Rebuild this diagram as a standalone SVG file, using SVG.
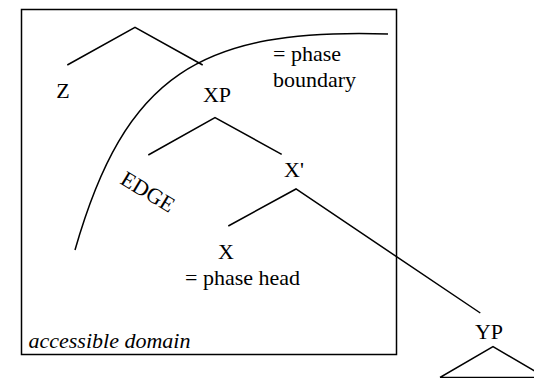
<svg xmlns="http://www.w3.org/2000/svg" width="534" height="378" viewBox="0 0 534 378">
<style>
.ln{stroke:#000;stroke-width:1.5;fill:none}
</style>
<rect x="0" y="0" width="534" height="378" fill="#fff"/>
<g font-family="Liberation Serif, Times New Roman, DejaVu Serif, serif" font-size="22" fill="#000">
<g id="domain-box">
<rect class="ln" x="21.5" y="9.5" width="375" height="345"/>
<text font-style="italic" x="28.5" y="347.5">accessible domain</text>
</g>
<g id="phase-boundary">
<path class="ln" d="M75,250 C125,75 200,28 388,34"/>
<text x="273" y="61">= phase</text>
<text x="273" y="86.7">boundary</text>
<text transform="translate(119,183) rotate(31)">EDGE</text>
</g>
<g id="connectors">
<polyline class="ln" points="67.3,65 135,27.3 202.7,65"/>
<polyline class="ln" points="148.3,155 215,117.7 281.7,154.3"/>
<polyline class="ln" points="228.3,226 296,189 480.3,313"/>
<polyline class="ln" points="440,377.5 493,346.7 546,377.5 440,377.5"/>
</g>
<g id="node-Z"><text x="63" y="98" text-anchor="middle">Z</text></g>
<g id="node-XP"><text x="217" y="101.7" text-anchor="middle">XP</text></g>
<g id="node-Xbar"><text x="284" y="176.7">X'</text></g>
<g id="node-X">
<text x="226" y="259" text-anchor="middle">X</text>
<text x="185" y="284.7">= phase head</text>
</g>
<g id="node-YP"><text x="489" y="338.7" text-anchor="middle">YP</text></g>
</g>
</svg>
